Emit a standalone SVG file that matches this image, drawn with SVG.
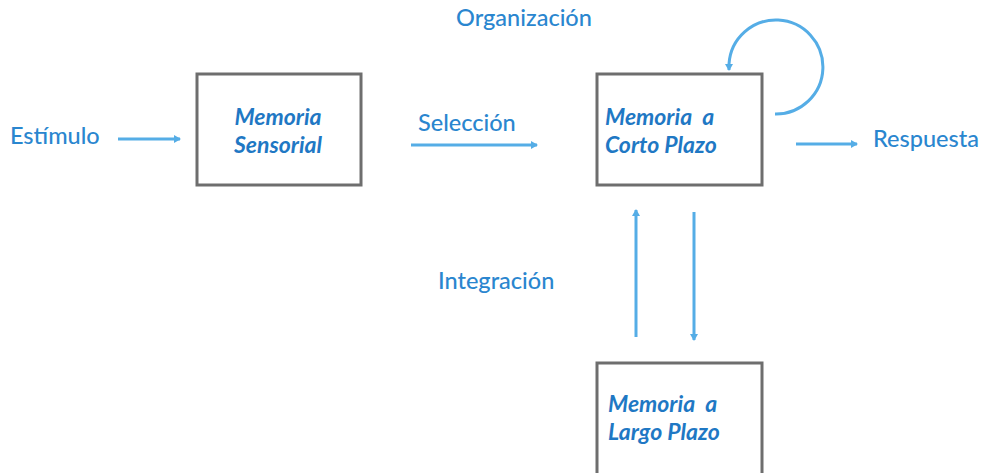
<svg xmlns="http://www.w3.org/2000/svg" width="1002" height="473" viewBox="0 0 1002 473">
<style>
.box{fill:none;stroke:#6e6e6e;stroke-width:3}
.lbl{font-family:Lato,"Open Sans",sans-serif;font-size:23.5px;font-weight:500;fill:#2a86cf}
.nt{font-family:Lato,"Open Sans",sans-serif;font-size:23px;font-style:italic;font-weight:bold;fill:#1f78c4}
.ar{fill:none;stroke:#55ade6;stroke-width:3}
</style>
<defs>
<marker id="ah" markerWidth="8" markerHeight="8" refX="6" refY="4" orient="auto" markerUnits="userSpaceOnUse">
<path d="M0,0 L7,4 L0,8 Z" fill="#55ade6"/>
</marker>
</defs>
<rect width="1002" height="473" fill="#ffffff"/>
<g id="connectors">
<line class="ar" x1="118" y1="139" x2="180" y2="139" marker-end="url(#ah)"/>
<line class="ar" x1="411" y1="145" x2="537" y2="145" marker-end="url(#ah)"/>
<line class="ar" x1="796" y1="144" x2="857" y2="144" marker-end="url(#ah)"/>
<line class="ar" x1="636" y1="337" x2="636" y2="210" marker-end="url(#ah)"/>
<line class="ar" x1="694" y1="212" x2="694" y2="340" marker-end="url(#ah)"/>
<path class="ar" d="M775,114 A47,47 0 1 0 729,64 L729,70" marker-end="url(#ah)"/>
</g>
<g id="estimulo"><text class="lbl" x="10" y="144">Estímulo</text></g>
<g id="seleccion"><text class="lbl" x="418" y="131">Selección</text></g>
<g id="organizacion"><text class="lbl" x="524" y="26" text-anchor="middle">Organización</text></g>
<g id="respuesta"><text class="lbl" x="873" y="147">Respuesta</text></g>
<g id="integracion"><text class="lbl" x="438" y="289">Integración</text></g>
<g id="memoria-sensorial">
<rect class="box" x="197" y="74" width="164" height="111"/>
<text class="nt" x="278" y="125" text-anchor="middle">Memoria</text>
<text class="nt" x="278" y="153" text-anchor="middle">Sensorial</text>
</g>
<g id="memoria-corto">
<rect class="box" x="597" y="74" width="165" height="111"/>
<text class="nt" x="605" y="125" xml:space="preserve">Memoria  a</text>
<text class="nt" x="605" y="153">Corto Plazo</text>
</g>
<g id="memoria-largo">
<rect class="box" x="597" y="363" width="165" height="112"/>
<text class="nt" x="608" y="412" xml:space="preserve">Memoria  a</text>
<text class="nt" x="608" y="440">Largo Plazo</text>
</g>
</svg>
